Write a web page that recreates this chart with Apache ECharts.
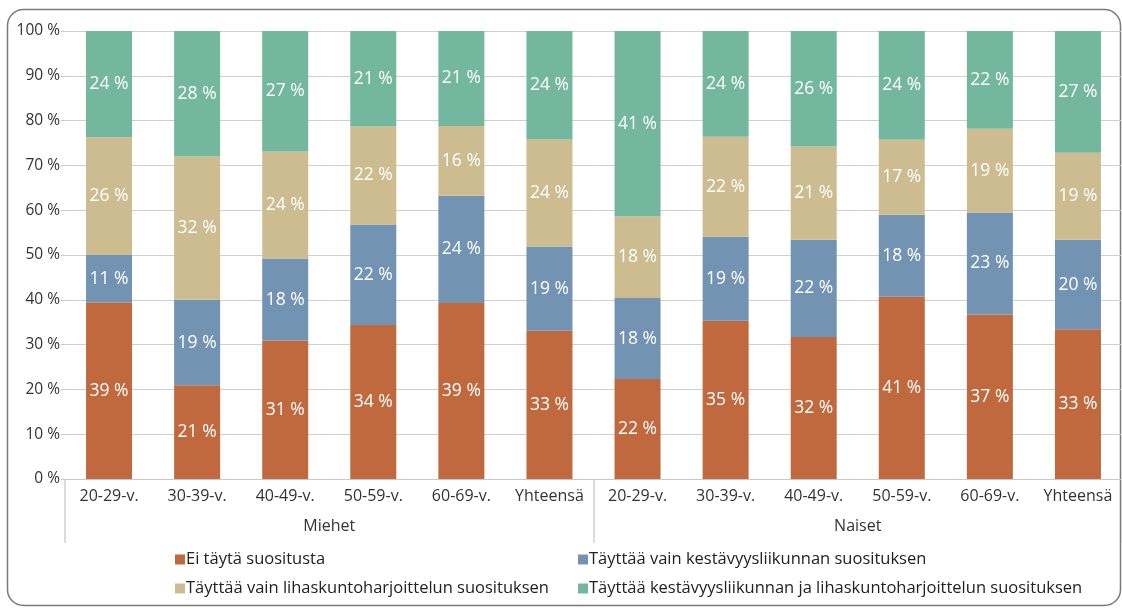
<!DOCTYPE html>
<html>
<head>
<meta charset="utf-8">
<script src="https://cdn.jsdelivr.net/npm/echarts@6/dist/echarts.min.js"></script>
<style>
html,body{margin:0;padding:0;background:#fff;}
#chart{width:1122px;height:608px;}
</style>
</head>
<body>
<div id="chart"></div>
<script>
const categories = ['20-29-v.','30-39-v.','40-49-v.','50-59-v.','60-69-v.','Yhteensä','20-29-v.','30-39-v.','40-49-v.','50-59-v.','60-69-v.','Yhteensä'];
const groups = ['Miehet','Naiset'];
const seriesNames = [
  'Ei täytä suositusta',
  'Täyttää vain kestävyysliikunnan suosituksen',
  'Täyttää vain lihaskuntoharjoittelun suosituksen',
  'Täyttää kestävyysliikunnan ja lihaskuntoharjoittelun suosituksen'
];
const eiTayta      = [39.4, 20.9, 30.9, 34.4, 39.3, 33.1, 22.3, 35.3, 31.7, 40.7, 36.7, 33.4];
const vainKestavyys = [10.6, 19.1, 18.3, 22.4, 23.9, 18.8, 18.1, 18.8, 21.7, 18.3, 22.8, 20.0];
const vainLihas    = [26.3, 32.0, 23.9, 21.9, 15.6, 23.9, 18.2, 22.3, 20.8, 16.7, 18.7, 19.4];
const molemmat     = [23.7, 28.0, 26.9, 21.3, 21.2, 24.2, 41.4, 23.6, 25.8, 24.3, 21.8, 27.2];
const colors = ['#C0693F','#7293B2','#CEBC91','#72B79E'];

const FONT = '"Open Sans", sans-serif';
const chart = echarts.init(document.getElementById('chart'), null, {renderer:'canvas'});
const dataSets = [eiTayta, vainKestavyys, vainLihas, molemmat];
const series = dataSets.map((d, i) => ({
  name: seriesNames[i],
  type: 'bar',
  stack: 'total',
  xAxisIndex: 0,
  barWidth: 46,
  data: d,
  itemStyle: {color: colors[i]},
  label: {
    show: true,
    position: 'inside',
    color: '#fff',
    fontSize: 17.5,
    fontFamily: FONT,
    formatter: p => Math.round(p.value) + ' %'
  }
}));

chart.setOption({
  animation: false,
  backgroundColor: '#fff',
  textStyle: {fontFamily: FONT},
  graphic: [{
    type: 'rect',
    shape: {x: 7.5, y: 9.5, width: 1113, height: 596, r: 16},
    style: {fill: 'none', stroke: '#7a7a7a', lineWidth: 1.5},
    silent: true,
    z: -1
  }],
  grid: {left: 65, top: 31, width: 1059, height: 448, containLabel: false},
  legend: [{
    orient: 'vertical', left: 170, top: 546, itemGap: 12,
    icon: 'rect', itemWidth: 10, itemHeight: 10,
    textStyle: {fontSize: 16.5, color: '#222', fontFamily: FONT, padding: [0,0,0,-4]},
    data: [seriesNames[0], seriesNames[2]]
  },{
    orient: 'vertical', left: 573, top: 546, itemGap: 12,
    icon: 'rect', itemWidth: 10, itemHeight: 10,
    textStyle: {fontSize: 16.5, color: '#222', fontFamily: FONT, padding: [0,0,0,-4]},
    data: [seriesNames[1], seriesNames[3]]
  }],
  xAxis: [{
    type: 'category',
    data: categories,
    position: 'bottom',
    axisLine: {show: true, lineStyle: {color: '#c8c8c8', width: 1}},
    axisTick: {show: false},
    axisLabel: {color: '#333', fontSize: 16, margin: 9, interval: 0, fontFamily: FONT}
  },{
    type: 'category',
    data: groups,
    position: 'bottom',
    axisLine: {show: false},
    axisTick: {show: true, length: 64, alignWithLabel: false, lineStyle: {color: '#d0d0d0', width: 1.5}},
    axisLabel: {color: '#333', fontSize: 16, margin: 39, interval: 0, fontFamily: FONT},
    splitLine: {show: false}
  }],
  yAxis: {
    type: 'value',
    min: 0, max: 100, interval: 10,
    axisLine: {show: false},
    axisTick: {show: true, length: 4, lineStyle: {color: '#c8c8c8'}},
    splitLine: {show: true, lineStyle: {color: '#cfcfcf', width: 1}},
    axisLabel: {formatter: '{value} %', color: '#333', fontSize: 15.5, margin: 5, fontFamily: FONT}
  },
  series: series.concat([{
    type: 'bar', xAxisIndex: 1, data: [], silent: true
  }])
});
</script>
</body>
</html>
